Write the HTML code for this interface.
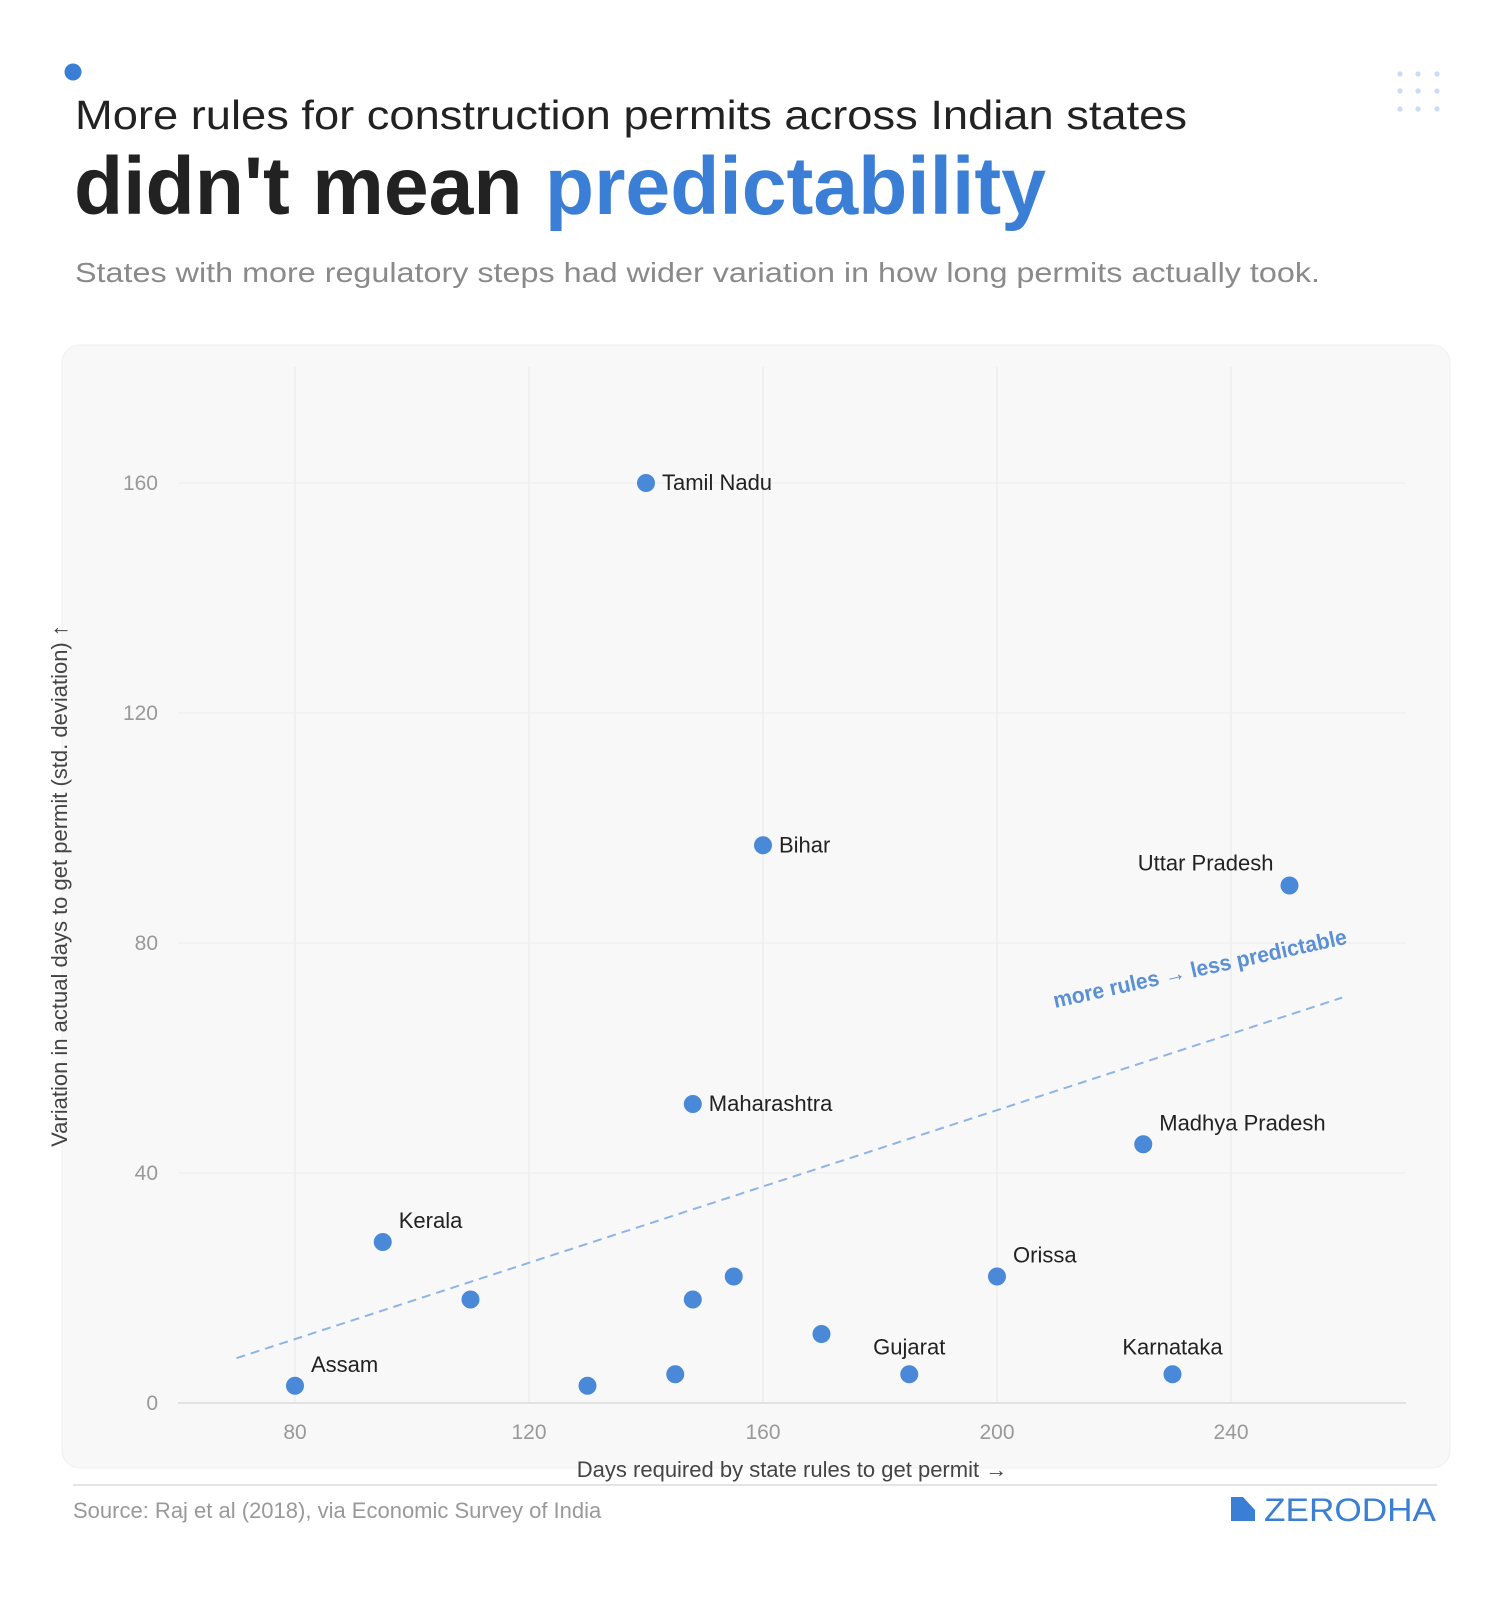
<!DOCTYPE html>
<html><head><meta charset="utf-8"><style>
html,body{margin:0;padding:0;background:#fff;}
svg{display:block;font-family:"Liberation Sans",sans-serif;}
</style></head><body>
<svg id="chart" width="1509" height="1600" viewBox="0 0 1509 1600">
<circle cx="73" cy="72" r="8.5" fill="#3a7fd5"/>
<g fill="#c9dcf3">
<circle cx="1400" cy="74" r="2.6"/><circle cx="1418" cy="74" r="2.6"/><circle cx="1437" cy="74" r="2.6"/>
<circle cx="1400" cy="91" r="2.6"/><circle cx="1418" cy="91" r="2.6"/><circle cx="1437" cy="91" r="2.6"/>
<circle cx="1400" cy="109" r="2.6"/><circle cx="1418" cy="109" r="2.6"/><circle cx="1437" cy="109" r="2.6"/>
</g>
<text x="75" y="129" font-size="41" fill="#222" textLength="1112" lengthAdjust="spacingAndGlyphs">More rules for construction permits across Indian states</text>
<text x="74" y="214" font-size="82" font-weight="bold" fill="#222" textLength="972" lengthAdjust="spacingAndGlyphs">didn't mean <tspan fill="#3a7fd5">predictability</tspan></text>
<text x="75" y="282" font-size="28" fill="#8a8a8a" textLength="1245" lengthAdjust="spacingAndGlyphs">States with more regulatory steps had wider variation in how long permits actually took.</text>
<rect x="62" y="345" width="1388" height="1123" rx="18" fill="#f8f8f8" stroke="#efefef"/>
<g id="grid"></g>
<g id="axes"></g>
<g id="marks"></g>
<text x="792" y="1477" font-size="22" fill="#444" text-anchor="middle">Days required by state rules to get permit →</text>
<text transform="translate(67,886) rotate(-90)" font-size="22" fill="#444" text-anchor="middle">Variation in actual days to get permit (std. deviation) ↑</text>
<line x1="73" y1="1485" x2="1437" y2="1485" stroke="#e4e4e4" stroke-width="2"/>
<text x="73" y="1518" font-size="22" fill="#999">Source: Raj et al (2018), via Economic Survey of India</text>
<g>
<path d="M1231 1497 L1243 1497 L1255 1510 L1255 1521 L1231 1521 Z" fill="#3a7fd5"/>
<text x="1264" y="1521" font-size="32" fill="#3a7fd5" textLength="172" lengthAdjust="spacingAndGlyphs">ZERODHA</text>
</g>
</svg>
<script>
const xTicks = [80, 120, 160, 200, 240];
const yTicks = [0, 40, 80, 120, 160];
const states = ["Tamil Nadu","Bihar","Uttar Pradesh","Maharashtra","Madhya Pradesh","Kerala","","Orissa","","","","Gujarat","Karnataka","Assam","",""];
const daysRequired = [140, 160, 250, 148, 225, 95, 110, 200, 155, 148, 170, 185, 230, 80, 130, 145];
const variation = [160, 97, 90, 52, 45, 28, 18, 22, 22, 18, 12, 5, 5, 3, 3, 5];
const labelPos = ["right","right","above-left","right","above-right","above-right","","above-right","","","","above","above","above-right","",""];
const trendX = [70, 259];
const trendY = [7.8, 70.5];

const NS = "http://www.w3.org/2000/svg";
function X(v){ return 295 + (v - 80) * 234 / 40; }
function Y(v){ return 1403 - v * 230 / 40; }
function mk(tag, attrs, parent){ const e = document.createElementNS(NS, tag); for (const k in attrs) e.setAttribute(k, attrs[k]); parent.appendChild(e); return e; }
const grid = document.getElementById('grid'), axes = document.getElementById('axes'), marks = document.getElementById('marks');

xTicks.forEach(t => {
  const l = mk('line', {x1: X(t), x2: X(t), y1: 367, y2: Y(0), stroke: '#e9e9e9', 'stroke-width': 1}, grid);
  
  
  const tx = mk('text', {x: X(t), y: 1439, 'font-size': 21, fill: '#999', 'text-anchor': 'middle'}, axes);
  tx.textContent = t;
  
  
});
yTicks.forEach(t => {
  const l = mk('line', {x1: 178, x2: 1406, y1: Y(t), y2: Y(t), stroke: t === 0 ? '#e2e2e2' : '#ececec', 'stroke-width': t === 0 ? 2 : 1}, grid);
  
  
  const tx = mk('text', {x: 158, y: Y(t) + 7, 'font-size': 21, fill: '#999', 'text-anchor': 'end'}, axes);
  tx.textContent = t;
  
  
});

const trend = mk('line', {x1: X(trendX[0]), y1: Y(trendY[0]), x2: X(trendX[1]), y2: Y(trendY[1]), stroke: '#8fb4e6', 'stroke-width': 2, 'stroke-dasharray': '9 6'}, marks);


const ann = mk('text', {transform: 'translate(1055,1008) rotate(-12.4)', 'font-size': 22, fill: '#5b8fd6', 'font-weight': 'bold', textLength: 300, lengthAdjust: 'spacingAndGlyphs'}, marks);
ann.textContent = 'more rules → less predictable';



daysRequired.forEach((d, i) => {
  const cx = X(d), cy = Y(variation[i]);
  const c = mk('circle', {cx: cx, cy: cy, r: 9, fill: '#4a88d8'}, marks);
  
  
  if (!states[i]) return;
  let x = cx + 16, y = cy + 7, anchor = 'start';
  const p = labelPos[i];
  if (p === 'above-right') { x = cx + 16; y = cy - 14; }
  if (p === 'above') { x = cx; y = cy - 20; anchor = 'middle'; }
  if (p === 'above-left') { x = cx - 16; y = cy - 15; anchor = 'end'; }
  const t = mk('text', {x: x, y: y, 'font-size': 22, fill: '#222', 'text-anchor': anchor}, marks);
  t.textContent = states[i];
  
  
});
</script>
</body></html>
